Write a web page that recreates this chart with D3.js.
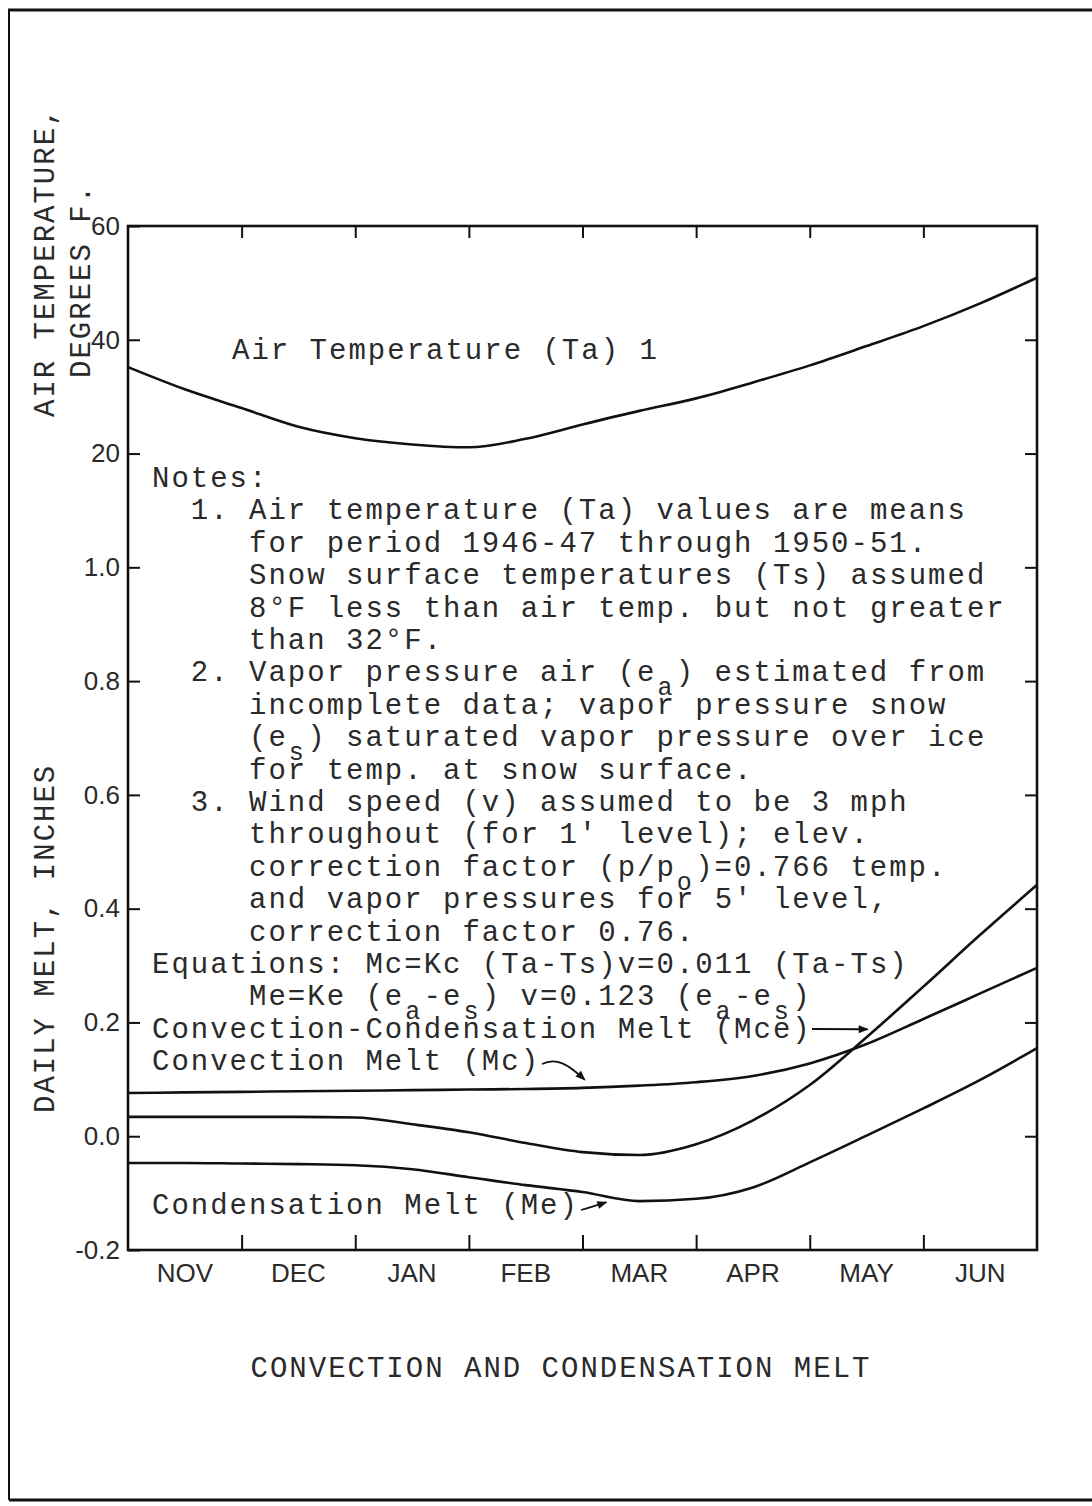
<!DOCTYPE html>
<html>
<head>
<meta charset="utf-8">
<script src="https://cdn.jsdelivr.net/npm/d3@7"></script>
<style>
  html, body { margin: 0; padding: 0; background: #fff; }
  svg { display: block; }
  .tw { font-family: "Liberation Mono", "Courier New", monospace; font-size: 29px; letter-spacing: 2px; fill: #2a2a2a; white-space: pre; }
  .tw .sub { font-size: 25px; }
  .sans { font-family: "Liberation Sans", Arial, sans-serif; font-size: 26px; fill: #2a2a2a; }
  .axis path.domain { display: none; }
  .axis line { stroke: #111; stroke-width: 2; }
</style>
</head>
<body>
<svg id="chart" width="1092" height="1506"></svg>
<script>
// Months along the horizontal axis (one band per month)
const months = ["NOV", "DEC", "JAN", "FEB", "MAR", "APR", "MAY", "JUN"];
// Sample points, in months after 1 November (every half month)
const monthPos = [0, 0.5, 1, 1.5, 2, 2.5, 3, 3.5, 4, 4.5, 5, 5.5, 6, 6.5, 7, 7.5, 8];
// Mean air temperature, degrees F
const airTemp = [35.2, 31.3, 28.0, 24.7, 22.7, 21.6, 21.1, 22.6, 25.1, 27.5, 29.7, 32.5, 35.5, 38.9, 42.4, 46.4, 50.9];
// Daily melt, inches
const convectionMelt = [0.076, 0.077, 0.078, 0.079, 0.080, 0.081, 0.082, 0.083, 0.085, 0.089, 0.095, 0.106, 0.128, 0.162, 0.206, 0.251, 0.296];
const combinedMelt = [0.034, 0.034, 0.034, 0.034, 0.033, 0.021, 0.007, -0.012, -0.028, -0.033, -0.014, 0.028, 0.090, 0.174, 0.263, 0.354, 0.442];
const condensationMelt = [-0.047, -0.047, -0.048, -0.049, -0.051, -0.058, -0.072, -0.086, -0.098, -0.114, -0.110, -0.090, -0.046, 0.001, 0.049, 0.099, 0.155];
// Axis tick values
const tempTicks = [20, 40, 60];
const meltTicks = [-0.2, 0.0, 0.2, 0.4, 0.6, 0.8, 1.0];
const monthBoundaries = [1, 2, 3, 4, 5, 6, 7];

// Explanatory text block; "_x" marks a subscript character
const notes = [
  "Notes:",
  "  1. Air temperature (Ta) values are means",
  "     for period 1946-47 through 1950-51.",
  "     Snow surface temperatures (Ts) assumed",
  "     8°F less than air temp. but not greater",
  "     than 32°F.",
  "  2. Vapor pressure air (e_a) estimated from",
  "     incomplete data; vapor pressure snow",
  "     (e_s) saturated vapor pressure over ice",
  "     for temp. at snow surface.",
  "  3. Wind speed (v) assumed to be 3 mph",
  "     throughout (for 1' level); elev.",
  "     correction factor (p/p_o)=0.766 temp.",
  "     and vapor pressures for 5' level,",
  "     correction factor 0.76.",
  "Equations: Mc=Kc (Ta-Ts)v=0.011 (Ta-Ts)",
  "     Me=Ke (e_a-e_s) v=0.123 (e_a-e_s)",
  "Convection-Condensation Melt (Mce)",
  "Convection Melt (Mc)"
];

const svg = d3.select("#chart");
const W = 1092, H = 1506;
const plotL = 128, plotR = 1037, plotT = 226, plotB = 1250;

// Page frame
svg.append("line").attr("x1", 8).attr("y1", 10).attr("x2", W).attr("y2", 10)
  .attr("stroke", "#111").attr("stroke-width", 3);
svg.append("line").attr("x1", 9).attr("y1", 10).attr("x2", 9).attr("y2", 1500)
  .attr("stroke", "#111").attr("stroke-width", 2);
svg.append("line").attr("x1", 9).attr("y1", 1500).attr("x2", W).attr("y2", 1500)
  .attr("stroke", "#111").attr("stroke-width", 3);

// Scales
const x = d3.scaleLinear().domain([0, 8]).range([plotL, plotR]);
const xBand = d3.scaleBand().domain(months).range([plotL, plotR]);
const yMelt = d3.scaleLinear().domain([-0.2, 1.6]).range([plotB, plotT]);
const yTemp = d3.scaleLinear().domain([0, 60]).range([yMelt(1.0), plotT]);

// Plot frame
svg.append("rect").attr("x", plotL).attr("y", plotT)
  .attr("width", plotR - plotL).attr("height", plotB - plotT)
  .attr("fill", "none").attr("stroke", "#111").attr("stroke-width", 2.6);

const fmt = v => (v < 0 ? "-" : "") + Math.abs(v).toFixed(1);

// Left axes: temperature (upper part) and daily melt (lower part), ticks pointing inward
const gLeft = svg.append("g").attr("class", "axis").attr("transform", `translate(${plotL},0)`);
gLeft.append("g").call(d3.axisLeft(yTemp).tickValues(tempTicks).tickSize(-12).tickPadding(8).tickFormat(d3.format("d")));
gLeft.append("g").call(d3.axisLeft(yMelt).tickValues(meltTicks).tickSize(-12).tickPadding(8).tickFormat(fmt));
gLeft.selectAll("text").attr("class", "sans").attr("font-size", null).attr("font-family", null).attr("fill", null);

// Right axis: inward ticks only
const gRight = svg.append("g").attr("class", "axis").attr("transform", `translate(${plotR},0)`);
gRight.append("g").call(d3.axisRight(yTemp).tickValues([20, 40]).tickSize(-12).tickFormat(""));
gRight.append("g").call(d3.axisRight(yMelt).tickValues(meltTicks.slice(1)).tickSize(-12).tickFormat(""));

// Top and bottom: inward ticks at month boundaries
svg.append("g").attr("class", "axis").attr("transform", `translate(0,${plotT})`)
  .call(d3.axisTop(x).tickValues(monthBoundaries).tickSize(-12).tickFormat(""));
svg.append("g").attr("class", "axis").attr("transform", `translate(0,${plotB})`)
  .call(d3.axisBottom(x).tickValues(monthBoundaries).tickSize(-15).tickFormat(""));
// Month names centred in each band
const gMonths = svg.append("g").attr("class", "axis").attr("transform", `translate(0,${plotB})`)
  .call(d3.axisBottom(xBand).tickSize(0).tickPadding(14));
gMonths.selectAll("text").attr("class", "sans").attr("font-size", null).attr("font-family", null).attr("fill", null);

// Curves
const line = (vals, y) => d3.line()
  .x((d, i) => x(monthPos[i]))
  .y(d => y(d))
  .curve(d3.curveMonotoneX)(vals);

[[airTemp, yTemp], [convectionMelt, yMelt], [combinedMelt, yMelt], [condensationMelt, yMelt]]
  .forEach(([vals, y]) => {
    svg.append("path").attr("d", line(vals, y))
      .attr("fill", "none").attr("stroke", "#111").attr("stroke-width", 2.6)
      .attr("stroke-linejoin", "round");
  });

// Typewritten text helper with subscripts (a subscript takes one character cell)
const cell = 19.4;
function typeLine(g, str, tx, ty) {
  const t = g.append("text").attr("class", "tw").attr("x", tx).attr("y", ty);
  const parts = str.split(/_(.)/);
  let col = 0;
  parts.forEach((p, i) => {
    if (i % 2 === 1) {
      t.append("tspan").attr("class", "sub").attr("x", tx + col * cell + 1).attr("dy", 14).text(p);
      col += 1;
    } else if (p.length) {
      const s = t.append("tspan").text(p);
      if (i > 0) s.attr("x", tx + col * cell).attr("dy", -14);
      col += p.length;
    }
  });
  return t;
}

const gText = svg.append("g");
typeLine(gText, "Air Temperature (Ta) 1", 232, 359);
const noteX = 152, noteY = 487, lineStep = 32.4;
notes.forEach((s, i) => typeLine(gText, s, noteX, noteY + i * lineStep));
typeLine(gText, "Condensation Melt (Me)", noteX, 1214);

// Arrows from labels to their curves
svg.append("defs").append("marker")
  .attr("id", "arrow").attr("viewBox", "0 0 10 10").attr("refX", 9).attr("refY", 5)
  .attr("markerWidth", 12).attr("markerHeight", 10).attr("markerUnits", "userSpaceOnUse")
  .attr("orient", "auto")
  .append("path").attr("d", "M0,1 L10,5 L0,9 Z").attr("fill", "#111");

const arrowStyle = sel => sel.attr("fill", "none").attr("stroke", "#111").attr("stroke-width", 1.8)
  .attr("marker-end", "url(#arrow)");

// Mce arrow
svg.append("path").attr("d", `M812,1029 L${x(6.51)},${yMelt(0.188)}`).call(arrowStyle);
// Mc arrow (curved)
const mcTip = [x(4.02), yMelt(0.099)];
svg.append("path").attr("d", `M542,1064 C556,1057 568,1064 ${mcTip[0]},${mcTip[1]}`).call(arrowStyle);
// Me arrow
svg.append("path").attr("d", `M581,1210 Q592,1207 ${x(4.21)},${yMelt(-0.116)}`).call(arrowStyle);

// Axis titles
svg.append("text").attr("class", "tw").attr("transform", "translate(54,417) rotate(-90)").text("AIR TEMPERATURE,");
svg.append("text").attr("class", "tw").attr("transform", "translate(90,378) rotate(-90)").text("DEGREES F.");
svg.append("text").attr("class", "tw").attr("transform", "translate(54,1113) rotate(-90)").text("DAILY MELT, INCHES");

// Caption
svg.append("text").attr("class", "tw").attr("x", 561).attr("y", 1377)
  .attr("text-anchor", "middle").text("CONVECTION AND CONDENSATION MELT");
</script>
</body>
</html>
